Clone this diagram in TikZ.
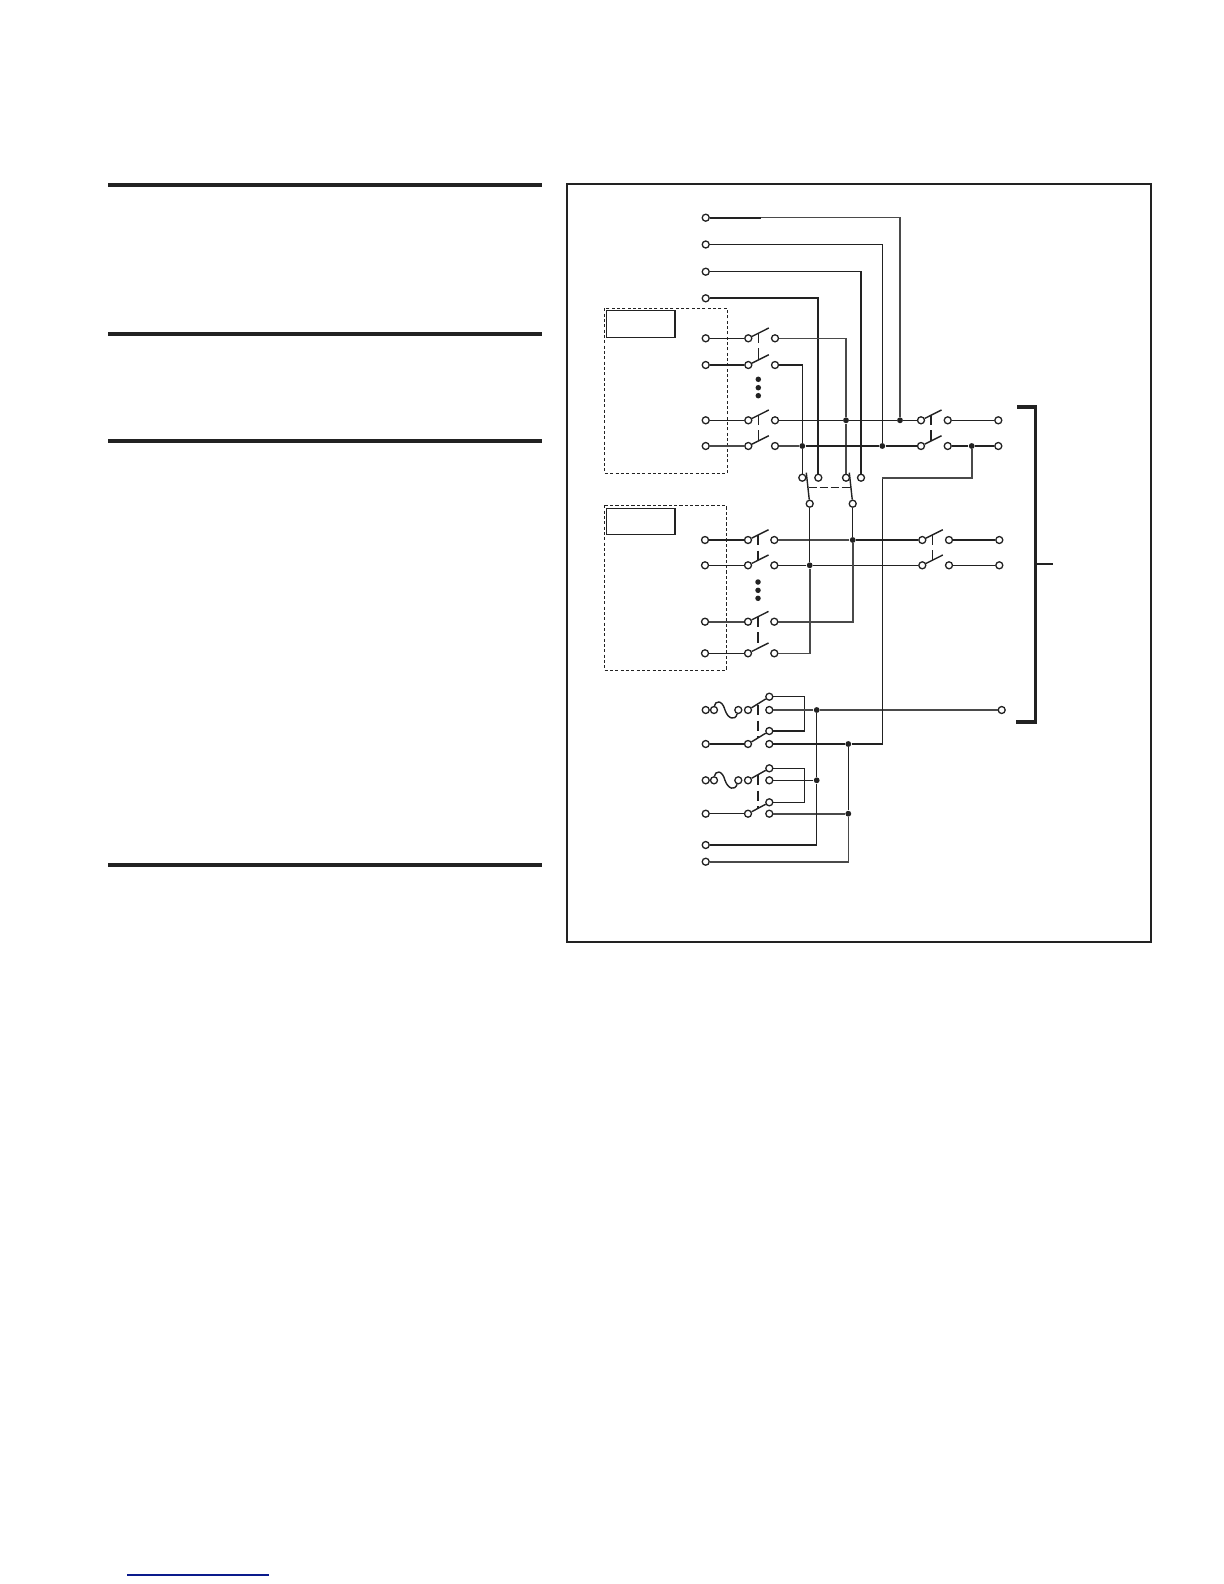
\documentclass[tikz,border=0pt]{standalone}
\definecolor{ink}{HTML}{222222}
\definecolor{greyink}{HTML}{4A4A4A}
\definecolor{navyline}{HTML}{0A1A8C}
\tikzset{
  x=0.6pt, y=-0.6pt,
  term/.style={circle, draw=ink, fill=white, line width=0.78pt, inner sep=0pt, minimum size=4.2pt},
  jdot/.style={circle, fill=ink, inner sep=0pt, minimum size=3.5pt},
  bigdot/.style={circle, fill=ink, inner sep=0pt, minimum size=3.3pt},
  wire/.style={draw=ink, line width=0.85pt},
  gwire/.style={draw=greyink, line width=0.95pt},
  heavywire/.style={draw=ink, line width=1.25pt},
  tie/.style={draw=ink, line width=0.72pt, dash pattern=on 6.2pt off 3pt},
  heavytie/.style={draw=ink, line width=1.2pt, dash pattern=on 6.2pt off 3.2pt},
  linktie/.style={draw=ink, line width=0.72pt, dash pattern=on 5pt off 1.6pt},
  rulebar/.style={draw=ink, line width=2.4pt},
  framebox/.style={draw=ink, line width=1.25pt},
  zonebox/.style={draw=ink, line width=0.65pt, dash pattern=on 1.9pt off 1.3pt},
  tagbox/.style={draw=ink, line width=0.72pt},
  tagedge/.style={draw=ink, line width=1.3pt},
  bracketline/.style={draw=ink, line width=1.9pt},
}
% name, left x, right x, y
\newcommand{\swpair}[4]{%
  \node[term] (#1l) at (#2,#4) {};
  \node[term] (#1r) at (#3,#4) {};
  \coordinate (#1b) at (#2+20.5,#4-10.3);
  \draw[wire] (#1l) -- (#1b);
}
\begin{document}
\begin{tikzpicture}
\useasboundingbox (0,0) rectangle (1224,1584);

% left column rules
\foreach \yy in {185,334,441,865} \draw[rulebar] (108,\yy) -- (542,\yy);
% footer link line
\draw[navyline, line width=0.75pt] (127,1575) -- (269,1575);
% frame
\draw[framebox] (567,184) rectangle (1151,942);

% zone boxes
\draw[zonebox] (604.5,308.3) rectangle (727.3,473.3);
\draw[tagbox] (606.3,310.3) rectangle (675.3,337.3);
\draw[tagedge] (675.3,310.3) -- (675.3,337.3);
\draw[zonebox] (604.5,505.3) rectangle (726.3,670.5);
\draw[tagbox] (606.3,508.3) rectangle (675.3,534.3);
\draw[tagedge] (675.3,508.3) -- (675.3,534.3);

% top input terminals
\node[term] (t1) at (705.7,217.7) {};
\node[term] (t2) at (705.7,244.5) {};
\node[term] (t3) at (705.7,271.7) {};
\node[term] (t4) at (705.7,298.3) {};

% block 1 inputs and switches
\node[term] (ta1) at (705.7,338.3) {};
\node[term] (ta2) at (705.7,365) {};
\node[term] (ta3) at (705.7,420.3) {};
\node[term] (ta4) at (705.7,446) {};
\swpair{a1}{748.3}{775}{338.3}
\swpair{a2}{748.3}{775}{365}
\swpair{a3}{748.3}{775}{420.3}
\swpair{a4}{748.3}{775}{446}
\node[bigdot] (da1) at (758.3,379.3) {};
\node[bigdot] (da2) at (758.3,387.7) {};
\node[bigdot] (da3) at (758.3,395.7) {};
\coordinate (tieA1) at (758.3,333);
\coordinate (tieA2) at (758.3,360);
\coordinate (tieA3) at (758.3,415);
\coordinate (tieA4) at (758.3,441);
\draw[tie] (tieA1) -- (tieA2);
\draw[tie] (tieA3) -- (tieA4);

% transfer switch
\node[term] (p1) at (802.3,477.7) {};
\node[term] (p2) at (818.3,477.7) {};
\node[term] (p3) at (846,477.7) {};
\node[term] (p4) at (861,477.7) {};
\node[term] (q1) at (809.7,503.7) {};
\node[term] (q2) at (852.7,503.7) {};
\coordinate (qb1) at (806.3,472.7);
\coordinate (qb2) at (849.3,472.7);
\draw[wire] (q1) -- (qb1);
\draw[wire] (q2) -- (qb2);
\coordinate (qt1) at (808.5,487.3);
\coordinate (qt2) at (851,487.3);
\draw[linktie] (qt1) -- (qt2);

% right upper switches
\swpair{c1}{921}{947.7}{420.3}
\swpair{c2}{921}{947.7}{446}
\node[term] (o1) at (998.3,420.3) {};
\node[term] (o2) at (998.3,446) {};
\coordinate (tieC1) at (931,415);
\coordinate (tieC2) at (931,441);
\draw[tie] (tieC1) -- (tieC2);

% junctions, upper part
\node[jdot] (jA) at (846,420.3) {};
\node[jdot] (jB) at (900,420.3) {};
\node[jdot] (jC) at (802.3,446) {};
\node[jdot] (jD) at (882.3,446) {};
\node[jdot] (jE) at (971.7,446) {};

% wires, upper part
\draw[wire] (ta1) -- (a1l);
\draw[wire] (ta2) -- (a2l);
\draw[wire] (ta3) -- (a3l);
\draw[gwire] (ta4) -- (a4l);
\coordinate (s1) at (761,217.7);
\coordinate (s2) at (866,217.7);
\draw[heavywire] (t1) -- (s1);
\draw[gwire] (s1) -- (s2);
\draw[gwire] (s2) -| (jB);
\draw[wire] (t2) -| (jD);
\draw[wire] (t3) -| (p4);
\draw[heavywire] (t4) -| (p2);
\draw[gwire] (a1r) -| (jA);
\draw[gwire] (jA) -- (p3);
\draw[wire] (a2r) -| (jC);
\draw[wire] (jC) -- (p1);
\draw[wire] (a3r) -- (jA);
\draw[wire] (jA) -- (jB);
\draw[wire] (jB) -- (c1l);
\draw[gwire] (a4r) -- (jC);
\draw[wire] (jC) -- (jD);
\draw[wire] (jD) -- (c2l);
\draw[wire] (c1r) -- (o1);
\draw[wire] (c2r) -- (jE);
\draw[wire] (jE) -- (o2);

% block 2
\node[term] (tb1) at (705,540) {};
\node[term] (tb2) at (705,565.3) {};
\node[term] (tb3) at (705,621.7) {};
\node[term] (tb4) at (705,653.3) {};
\swpair{b1}{748}{774.3}{540}
\swpair{b2}{748}{774.3}{565.3}
\swpair{b3}{748}{774.3}{621.7}
\swpair{b4}{748}{774.3}{653.3}
\node[bigdot] (db1) at (758,582) {};
\node[bigdot] (db2) at (758,590.3) {};
\node[bigdot] (db3) at (758,598.3) {};
\coordinate (tieB1) at (758,535);
\coordinate (tieB2) at (758,560);
\coordinate (tieB3) at (758,616.7);
\coordinate (tieB4) at (758,646);
\draw[heavytie] (tieB1) -- (tieB2);
\draw[heavytie] (tieB3) -- (tieB4);

% right lower switches
\swpair{e1}{922.3}{949}{540}
\swpair{e2}{922.3}{949}{565.3}
\node[term] (o3) at (999.3,540) {};
\node[term] (o4) at (999.3,565.3) {};
\coordinate (tieE1) at (932.3,535);
\coordinate (tieE2) at (932.3,560);
\draw[tie] (tieE1) -- (tieE2);

\node[jdot] (jF) at (852.7,540) {};
\node[jdot] (jG) at (809.7,565.3) {};

\draw[wire] (tb1) -- (b1l);
\draw[wire] (tb2) -- (b2l);
\draw[gwire] (tb3) -- (b3l);
\draw[wire] (tb4) -- (b4l);
\draw[gwire] (b1r) -- (jF);
\draw[wire] (jF) -- (e1l);
\draw[wire] (b2r) -- (jG);
\draw[wire] (jG) -- (e2l);
\draw[wire] (e1r) -- (o3);
\draw[wire] (e2r) -- (o4);
\draw[wire] (q1) -- (jG);
\draw[gwire] (jG) |- (b4r);
\draw[wire] (q2) -- (jF);
\draw[gwire] (jF) |- (b3r);

% fused section
\node[term] (g1t) at (705.7,710) {};
\node[term] (f1a) at (714,710) {};
\node[term] (f1b) at (738.3,710) {};
\node[term] (g1l) at (748,710) {};
\node[term] (g1u) at (769.3,696.7) {};
\node[term] (g1r) at (769.3,710) {};
\node[term] (g2t) at (705.7,744) {};
\node[term] (g2l) at (748,744) {};
\node[term] (g2u) at (769.3,731) {};
\node[term] (g2r) at (769.3,744) {};
\node[term] (g3t) at (705.7,780.3) {};
\node[term] (f2a) at (714,780.3) {};
\node[term] (f2b) at (738.3,780.3) {};
\node[term] (g3l) at (748,780.3) {};
\node[term] (g3u) at (769.3,768.3) {};
\node[term] (g3r) at (769.3,780.3) {};
\node[term] (g4t) at (705.7,813.7) {};
\node[term] (g4l) at (748,813.7) {};
\node[term] (g4u) at (769.3,802.3) {};
\node[term] (g4r) at (769.3,813.7) {};
\node[term] (t5) at (705.7,845) {};
\node[term] (t6) at (705.7,861.7) {};
\node[term] (o5) at (1001.7,710) {};
\node[jdot] (jH) at (816.7,710) {};
\node[jdot] (jI) at (848.3,744) {};
\node[jdot] (jJ) at (816.7,780.3) {};
\node[jdot] (jK) at (848.3,813.7) {};

\coordinate (fm1) at (725,710);
\coordinate (fm2) at (725,780.3);
\draw[wire] (f1a) .. controls (715,701) and (722,699) .. (fm1) .. controls (728,719) and (735,721) .. (f1b);
\draw[wire] (f2a) .. controls (715,771) and (722,769) .. (fm2) .. controls (728,789) and (735,791) .. (f2b);
\draw[wire] (g1l) -- (g1u);
\draw[wire] (g2l) -- (g2u);
\draw[wire] (g3l) -- (g3u);
\draw[wire] (g4l) -- (g4u);
\draw[wire] (g2t) -- (g2l);
\draw[wire] (g4t) -- (g4l);
\coordinate (brA) at (804.3,713);
\coordinate (brB) at (804.3,785);
\draw[wire] (g1u) -| (brA) |- (g2u);
\draw[wire] (g3u) -| (brB) |- (g4u);
\coordinate (tieG1) at (757.7,705);
\coordinate (tieG2) at (757.7,738);
\coordinate (tieG3) at (757.7,775);
\coordinate (tieG4) at (757.7,808);
\draw[heavytie] (tieG1) -- (tieG2);
\draw[heavytie] (tieG3) -- (tieG4);
\draw[gwire] (g1r) -- (jH);
\draw[gwire] (jH) -- (o5);
\draw[wire] (g2r) -- (jI);
\coordinate (cm) at (882.3,744);
\coordinate (cn) at (882.3,478);
\draw[wire] (jI) -- (cm) -- (cn);
\draw[gwire] (cn) -| (jE);
\draw[wire] (g3r) -- (jJ);
\draw[gwire] (g4r) -- (jK);
\draw[wire] (jH) -- (jJ);
\draw[wire] (jJ) |- (t5);
\draw[wire] (jI) -- (jK);
\draw[gwire] (jK) |- (t6);

% bracket
\coordinate (br1) at (1017,407);
\coordinate (br2) at (1035.7,407);
\coordinate (br3) at (1035.7,722);
\coordinate (br4) at (1016,722);
\coordinate (br5) at (1035.7,564);
\coordinate (br6) at (1053,564);
\draw[bracketline] (br1) -- (br2) -- (br3) -- (br4);
\draw[bracketline, line width=1.4pt] (br5) -- (br6);
\end{tikzpicture}
\end{document}
